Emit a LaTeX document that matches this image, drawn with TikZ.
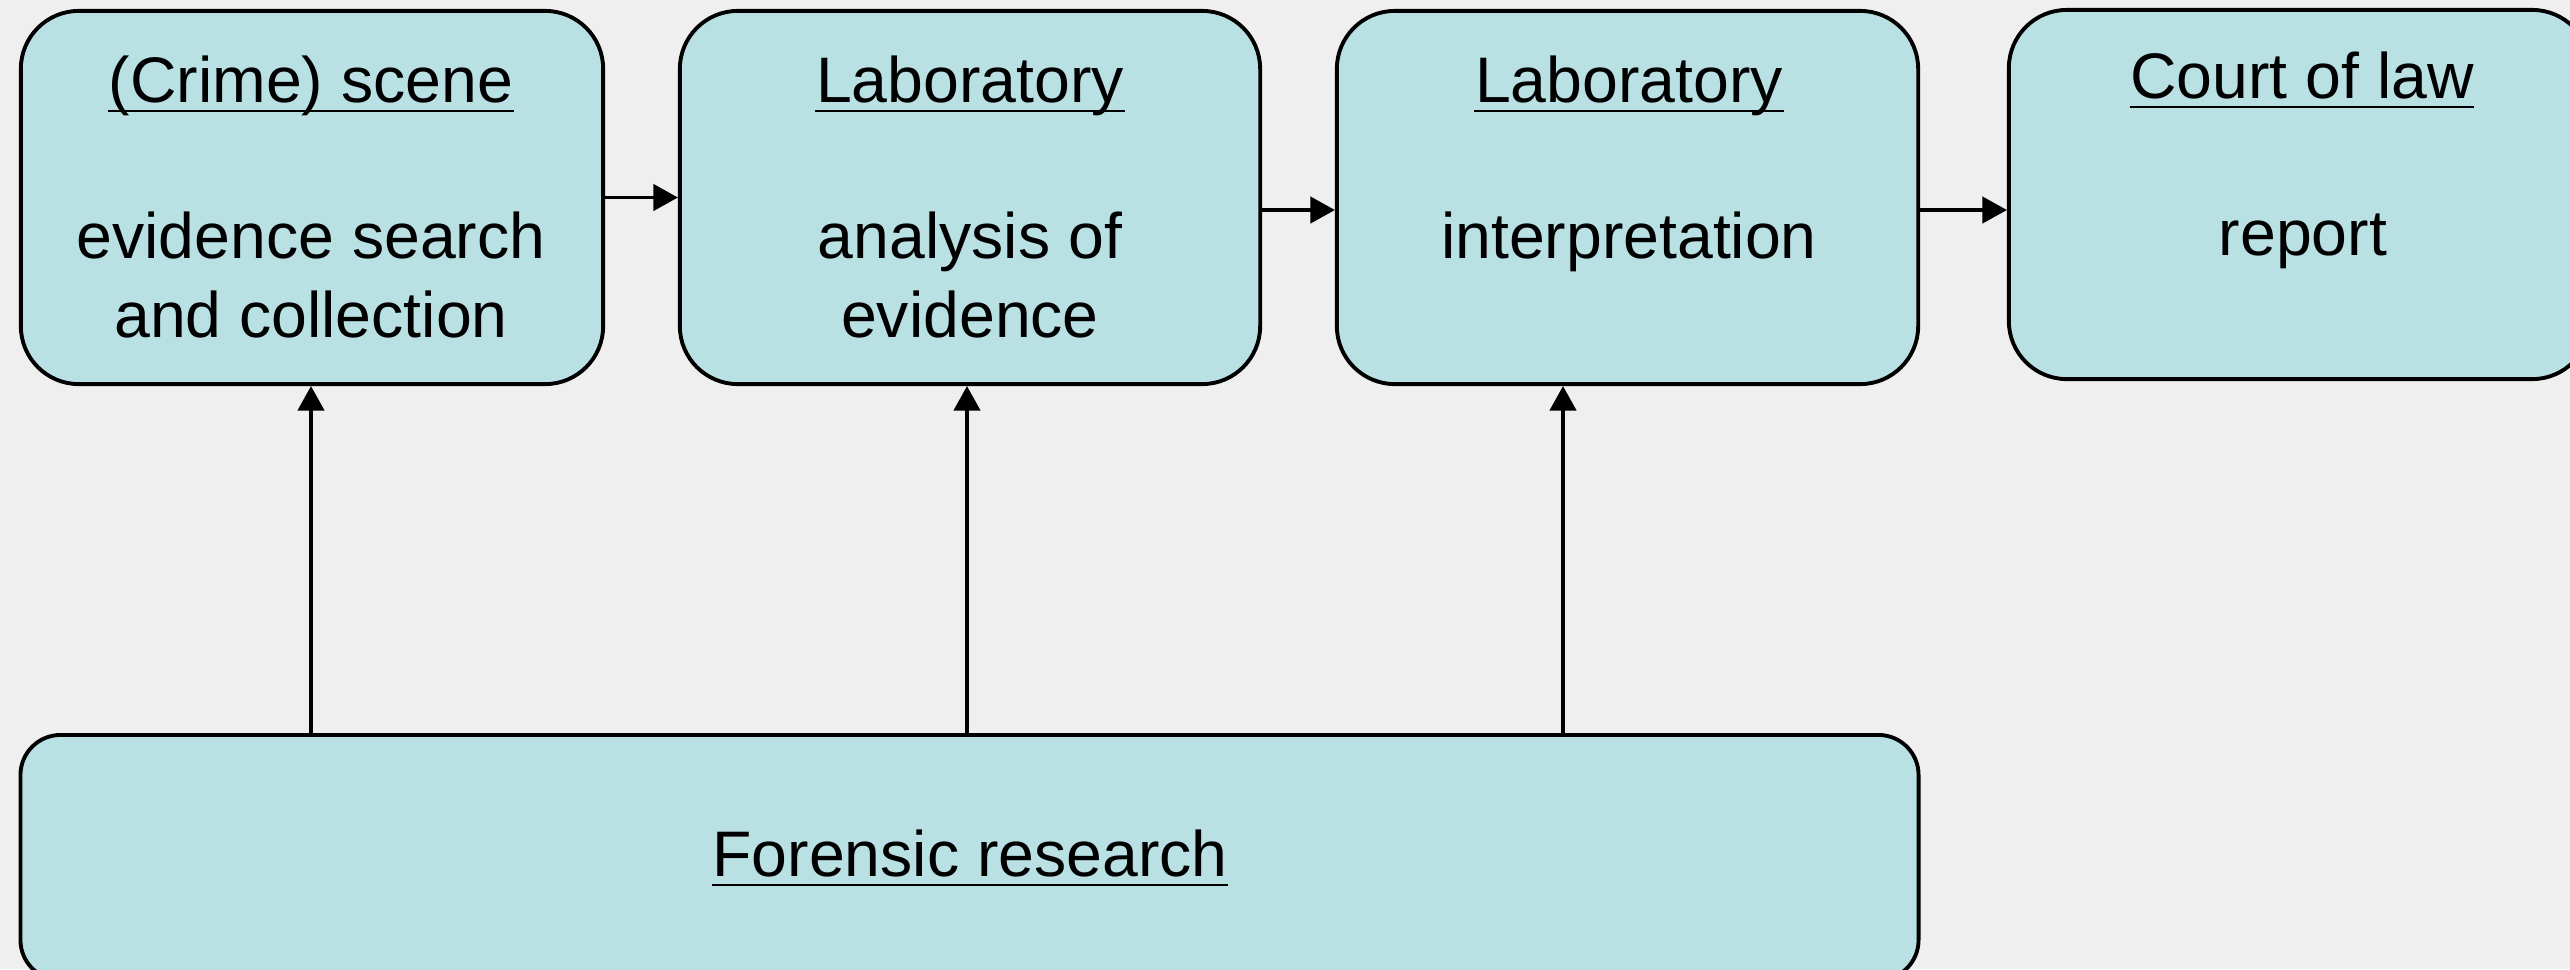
\documentclass[tikz,border=0pt]{standalone}
\usepackage{fontspec}
\setmainfont{Liberation Sans}
\usetikzlibrary{arrows.meta}
\definecolor{bgcol}{HTML}{EFEFEF}
\definecolor{boxfill}{HTML}{B9E0E3}
\begin{document}
\begin{tikzpicture}[x=0.01cm,y=-0.01cm,
  box/.style={draw=black, line width=1.1pt, fill=boxfill, rounded corners=16.5pt, inner sep=0pt},
  bigbox/.style={box, rounded corners=11.4pt},
  txt/.style={font=\fontsize{18.3}{22}\selectfont, inner sep=0pt, anchor=base},
  ul/.style={line width=0.75pt},
  arr/.style={-{Triangle[length=7pt,width=7.5pt]}, line width=1pt}]
\fill[bgcol] (0,0) rectangle (2570,969);
\useasboundingbox (0,0) rectangle (2570,969);
% boxes
\node[box, minimum width=5.82cm, minimum height=3.73cm] (b1) at (312,197.5) {};
\node[box, minimum width=5.80cm, minimum height=3.73cm] (b2) at (970,197.5) {};
\node[box, minimum width=5.81cm, minimum height=3.73cm] (b3) at (1627.5,197.5) {};
\node[box, minimum width=5.81cm, minimum height=3.69cm] (b4) at (2299.5,194.5) {};
\node[bigbox, minimum width=18.97cm, minimum height=2.45cm] (fr) at (969.5,857.5) {};
% texts
\node[txt] (t1) at (311,102) {(Crime) scene};
\node[txt] (t2) at (970,102) {Laboratory};
\node[txt] (t3) at (1629,102) {Laboratory};
\node[txt] (t4) at (2302,98) {Court of law};
\node[txt] (t5) at (970,876) {Forensic research};
\foreach \t in {t1,t2,t3,t4,t5}
  \draw[ul] ([yshift=-0.09cm]\t.base west) -- ([yshift=-0.09cm]\t.base east);
\node[txt] (l1a) at (311,258) {evidence search};
\node[txt] (l1b) at (311,337) {and collection};
\node[txt] (l2a) at (970,258) {analysis of};
\node[txt] (l2b) at (970,337) {evidence};
\node[txt] (l3a) at (1629,258) {interpretation};
\node[txt] (l4a) at (2303,255) {report};
% horizontal connectors
\draw[arr] (b1.east) -- (b2.west);
\draw[arr] ([yshift=-0.125cm]b2.east) -- ([yshift=-0.125cm]b2.east -| b3.west);
\draw[arr] ([yshift=-0.125cm]b3.east) -- ([yshift=-0.125cm]b3.east -| b4.west);
% vertical connectors
\coordinate (c1) at (311,600);
\coordinate (c2) at (967,600);
\coordinate (c3) at (1563,600);
\draw[arr] (fr.north -| c1) -- (b1.south -| c1);
\draw[arr] (fr.north -| c2) -- (b2.south -| c2);
\draw[arr] (fr.north -| c3) -- (b3.south -| c3);
\end{tikzpicture}
\end{document}
